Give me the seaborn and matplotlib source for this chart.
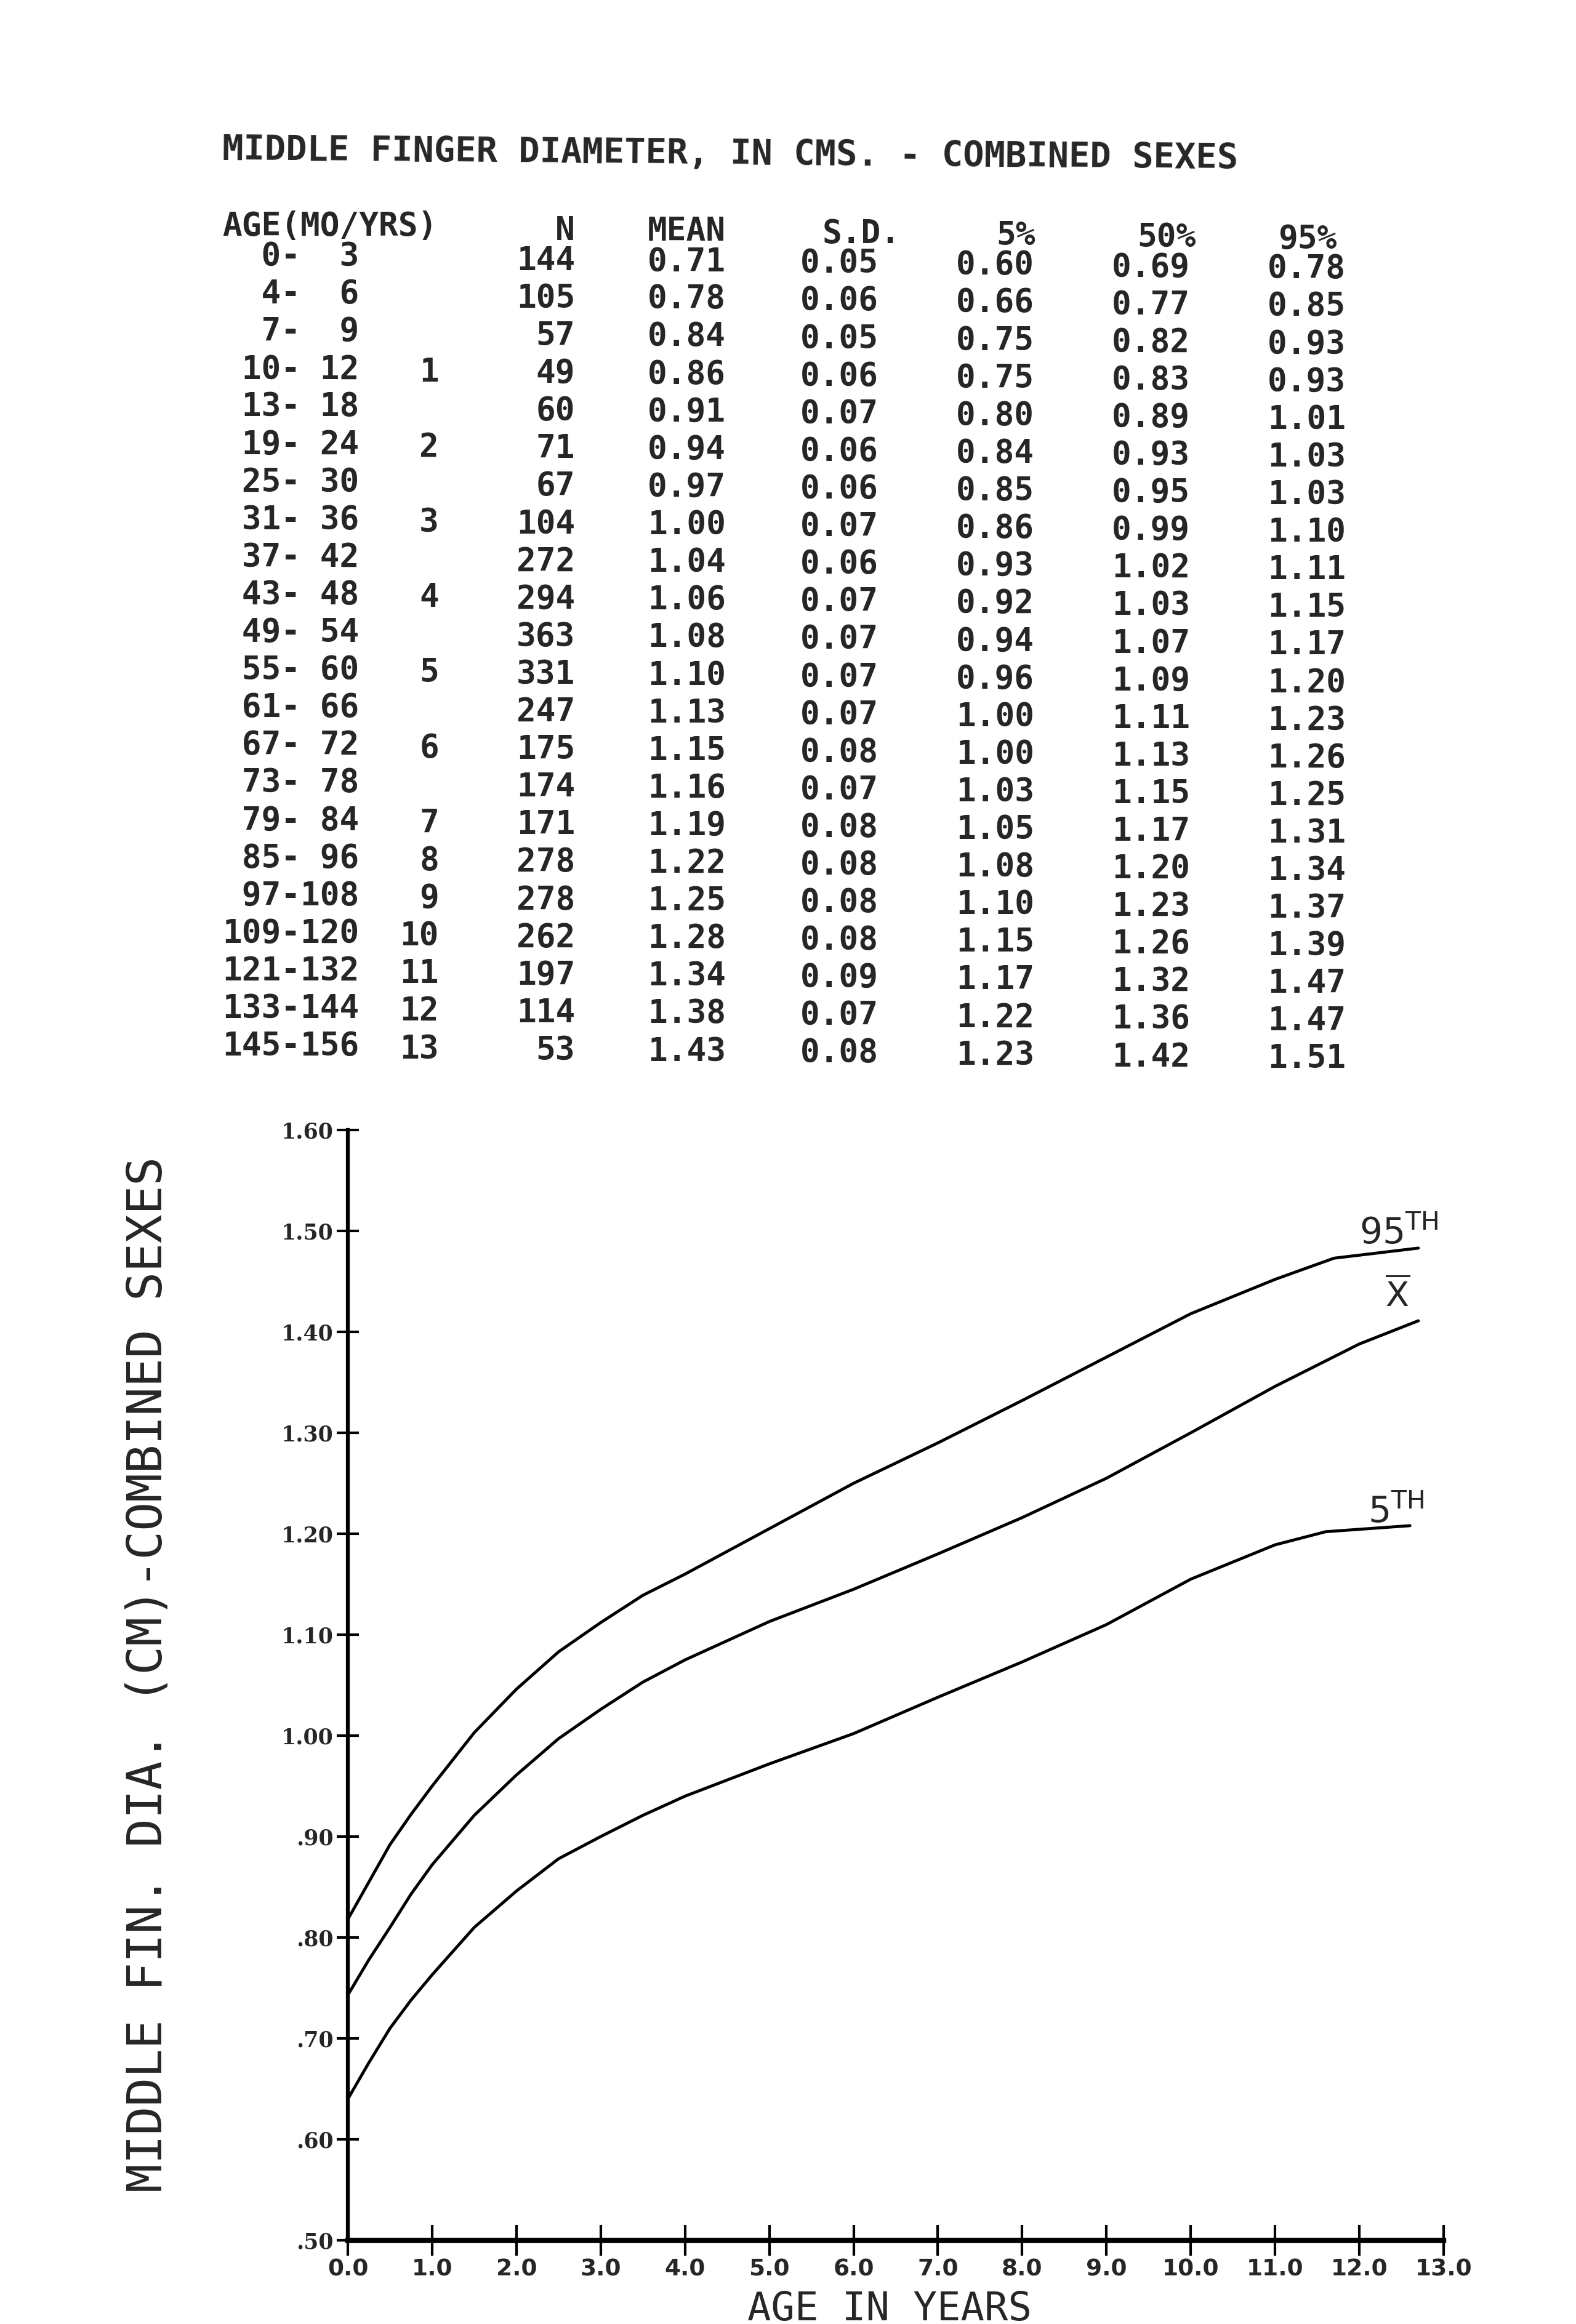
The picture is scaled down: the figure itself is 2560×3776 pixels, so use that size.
import matplotlib
matplotlib.use("Agg")
import matplotlib.pyplot as plt
import seaborn as sns
import pandas as pd

# ---- table printed above the graph ----
title_text = "MIDDLE FINGER DIAMETER, IN CMS. - COMBINED SEXES"
header_labels = ["AGE(MO/YRS)", "N", "MEAN", "S.D.", "5%", "50%", "95%"]
age_ranges = ["  0-  3", "  4-  6", "  7-  9", " 10- 12", " 13- 18", " 19- 24", " 25- 30",
              " 31- 36", " 37- 42", " 43- 48", " 49- 54", " 55- 60", " 61- 66", " 67- 72",
              " 73- 78", " 79- 84", " 85- 96", " 97-108", "109-120", "121-132", "133-144",
              "145-156"]
age_years = ["", "", "", "1", "", "2", "", "3", "", "4", "", "5", "", "6", "", "7",
             "8", "9", "10", "11", "12", "13"]
n_obs = [144, 105, 57, 49, 60, 71, 67, 104, 272, 294, 363, 331, 247, 175, 174, 171,
         278, 278, 262, 197, 114, 53]
mean_cm = [0.71, 0.78, 0.84, 0.86, 0.91, 0.94, 0.97, 1.00, 1.04, 1.06, 1.08, 1.10, 1.13,
           1.15, 1.16, 1.19, 1.22, 1.25, 1.28, 1.34, 1.38, 1.43]
sd_cm = [0.05, 0.06, 0.05, 0.06, 0.07, 0.06, 0.06, 0.07, 0.06, 0.07, 0.07, 0.07, 0.07,
         0.08, 0.07, 0.08, 0.08, 0.08, 0.08, 0.09, 0.07, 0.08]
p5_cm = [0.60, 0.66, 0.75, 0.75, 0.80, 0.84, 0.85, 0.86, 0.93, 0.92, 0.94, 0.96, 1.00,
         1.00, 1.03, 1.05, 1.08, 1.10, 1.15, 1.17, 1.22, 1.23]
p50_cm = [0.69, 0.77, 0.82, 0.83, 0.89, 0.93, 0.95, 0.99, 1.02, 1.03, 1.07, 1.09, 1.11,
          1.13, 1.15, 1.17, 1.20, 1.23, 1.26, 1.32, 1.36, 1.42]
p95_cm = [0.78, 0.85, 0.93, 0.93, 1.01, 1.03, 1.03, 1.10, 1.11, 1.15, 1.17, 1.20, 1.23,
          1.26, 1.25, 1.31, 1.34, 1.37, 1.39, 1.47, 1.47, 1.51]

# ---- smoothed curves ----
p95_age = [0.0, 0.25, 0.5, 0.75, 1.0, 1.5, 2.0, 2.5, 3.0, 3.5, 4.0, 5.0, 6.0, 7.0, 8.0,
           9.0, 10.0, 11.0, 11.7, 12.7]
p95_curve = [0.818, 0.855, 0.892, 0.922, 0.950, 1.003, 1.046, 1.083, 1.112, 1.139, 1.160,
             1.205, 1.250, 1.290, 1.332, 1.375, 1.418, 1.452, 1.473, 1.483]
mean_age = [0.0, 0.25, 0.5, 0.75, 1.0, 1.5, 2.0, 2.5, 3.0, 3.5, 4.0, 5.0, 6.0, 7.0, 8.0,
            9.0, 10.0, 11.0, 12.0, 12.7]
mean_curve = [0.743, 0.778, 0.810, 0.843, 0.872, 0.921, 0.961, 0.997, 1.026, 1.053, 1.075,
              1.113, 1.145, 1.180, 1.216, 1.255, 1.300, 1.346, 1.388, 1.411]
p5_age = [0.0, 0.25, 0.5, 0.75, 1.0, 1.5, 2.0, 2.5, 3.0, 3.5, 4.0, 5.0, 6.0, 7.0, 8.0,
          9.0, 10.0, 11.0, 11.6, 12.6]
p5_curve = [0.640, 0.676, 0.710, 0.738, 0.763, 0.810, 0.846, 0.878, 0.900, 0.921, 0.940,
            0.972, 1.002, 1.038, 1.073, 1.110, 1.155, 1.189, 1.202, 1.208]

x_ticks = list(range(0, 14))
x_tick_labels = ["0.0", "1.0", "2.0", "3.0", "4.0", "5.0", "6.0", "7.0", "8.0", "9.0",
                 "10.0", "11.0", "12.0", "13.0"]
y_ticks = [1.6, 1.5, 1.4, 1.3, 1.2, 1.1, 1.0, 0.9, 0.8, 0.7, 0.6, 0.5]
y_tick_labels = ["1.60", "1.50", "1.40", "1.30", "1.20", "1.10", "1.00", ".90", ".80",
                 ".70", ".60", ".50"]

sns.set_style("white")
plt.rcParams['font.family'] = ['DejaVu Sans']
plt.rcParams['mathtext.fontset'] = 'dejavusans'

W, H = 2560, 3776
fig = plt.figure(figsize=(25.6, 37.76), dpi=100)

def fx(px):
    return px / W

def fy(py):
    return 1 - py / H

mono = ['DejaVu Sans Mono']
narrow = ['Liberation Sans Narrow', 'DejaVu Sans']
skew = 0.012  # the printout is slightly rotated

# title and header
fig.text(fx(361), fy(245), title_text, family=mono, fontsize=41, fontweight='bold',
         ha='left', va='center', rotation=-0.5, rotation_mode='anchor')
header_x = [361, 934, 1052, 1336, 1618, 1847, 2076]
header_ha = ['left', 'right', 'left', 'left', 'left', 'left', 'left']
for lab, x, ha in zip(header_labels, header_x, header_ha):
    fig.text(fx(x), fy(368 + (x - 361) * skew), lab, family=mono, fontsize=38,
             fontweight='bold', ha=ha, va='center')

# table rows
row0, row_step = 417, 61.1
cols = [
    (361, 'left', age_ranges),
    (713, 'right', age_years),
    (934, 'right', [str(v) for v in n_obs]),
    (1052, 'left', [f"{v:.2f}" for v in mean_cm]),
    (1300, 'left', [f"{v:.2f}" for v in sd_cm]),
    (1553, 'left', [f"{v:.2f}" for v in p5_cm]),
    (1806, 'left', [f"{v:.2f}" for v in p50_cm]),
    (2059, 'left', [f"{v:.2f}" for v in p95_cm]),
]
for x, ha, values in cols:
    for i, s in enumerate(values):
        y = row0 + i * row_step + (x - 361) * skew
        fig.text(fx(x), fy(y), s, family=mono, fontsize=38, fontweight='bold',
                 ha=ha, va='center')

# ---- graph ----
ax = fig.add_axes([fx(565), fy(3640), fx(2345) - fx(565), fy(1836) - fy(3640)])

curves = pd.concat([
    pd.DataFrame({'age': p95_age, 'dia': p95_curve, 'curve': '95TH'}),
    pd.DataFrame({'age': mean_age, 'dia': mean_curve, 'curve': 'MEAN'}),
    pd.DataFrame({'age': p5_age, 'dia': p5_curve, 'curve': '5TH'}),
])
sns.lineplot(data=curves, x='age', y='dia', hue='curve', estimator=None, sort=False,
             palette={'95TH': 'black', 'MEAN': 'black', '5TH': 'black'},
             linewidth=3.5, legend=False, ax=ax)

ax.set_xlim(0, 13)
ax.set_ylim(0.5, 1.6)
for side in ['top', 'right']:
    ax.spines[side].set_visible(False)
ax.spines['left'].set_linewidth(4.5)
ax.spines['bottom'].set_linewidth(6)
ax.spines['left'].set_color('black')
ax.spines['bottom'].set_color('black')

ax.set_yticks(y_ticks)
ax.set_yticklabels(y_tick_labels, family=['DejaVu Serif'], fontweight='bold', fontsize=25)
ax.set_xticks(x_ticks)
ax.set_xticklabels(x_tick_labels, family=narrow, fontweight='bold', fontsize=27)
ax.tick_params(axis='y', direction='inout', length=26, width=3, pad=4, color='black',
               left=True)
ax.tick_params(axis='x', direction='inout', length=36, width=3, pad=3, color='black',
               bottom=True)
ax.set_xlabel('')
ax.set_ylabel('')

# curve labels
ax.text(12.0, 1.487, "95$^{\\mathrm{TH}}$", family=narrow, fontsize=42, ha='left',
        va='baseline')
ax.text(12.45, 1.435, r"$\overline{\mathrm{X}}$", fontsize=40, ha='center', va='center')
ax.text(12.1, 1.211, "5$^{\\mathrm{TH}}$", family=narrow, fontsize=42, ha='left',
        va='baseline')

# axis titles in plotter lettering
fig.text(fx(241), fy(2720), "MIDDLE FIN. DIA. (CM)-COMBINED SEXES", family=mono,
         fontsize=56, rotation=90, ha='center', va='center')
fig.text(fx(1445), fy(3770), "AGE IN YEARS", family=mono, fontsize=46, ha='center',
         va='baseline')

fig.savefig("out.png", dpi=100, facecolor='white')
